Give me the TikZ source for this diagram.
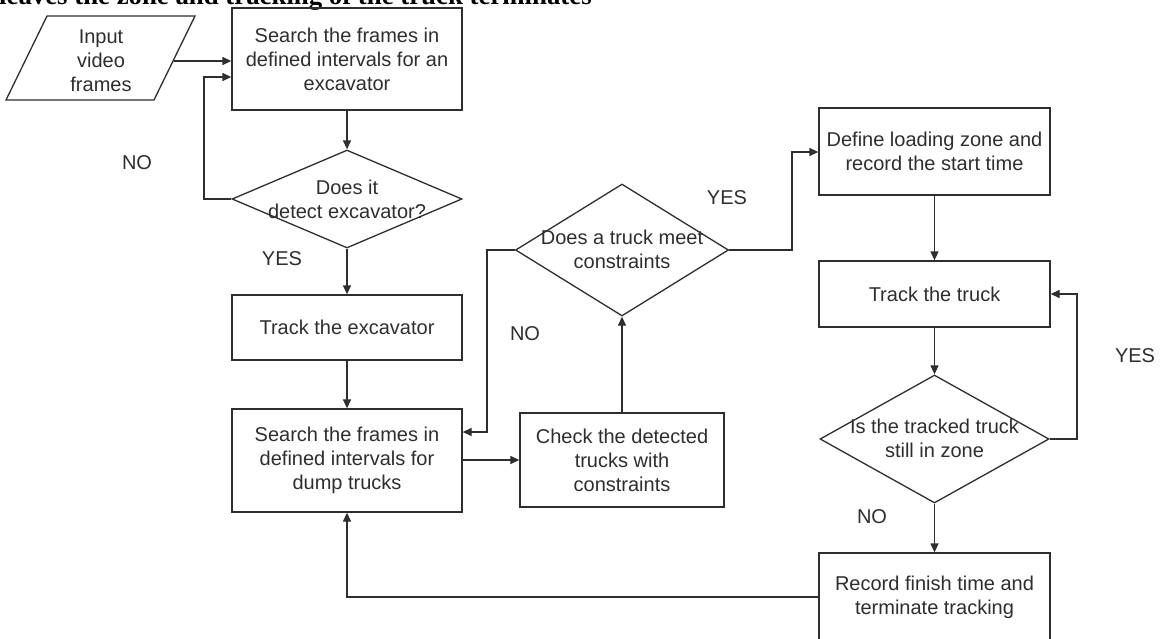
\documentclass[tikz,border=0pt]{standalone}
\usepackage{fontspec}
\setmainfont{Liberation Sans}
\newfontfamily\titlefont{Liberation Serif}
\usetikzlibrary{arrows.meta,shapes.geometric,calc}
\definecolor{ink}{HTML}{2E2E2E}
\tikzset{
  box/.style={draw=ink, line width=1.3pt, rectangle, inner sep=0pt, align=center,
              text=ink, font=\fontsize{20}{24}\selectfont},
  dia/.style={draw=ink, line width=1.3pt, diamond, inner sep=0pt},
  txt/.style={text=ink, align=center, font=\fontsize{20}{24}\selectfont, inner sep=0pt},
  arr/.style={draw=ink, line width=1.3pt, -{Triangle[length=9pt,width=8pt]}},
  ln/.style={draw=ink, line width=1.3pt}
}
\begin{document}
\begin{tikzpicture}[x=1pt,y=-1pt]
\useasboundingbox (0,0) rectangle (1160,638);
\clip (0,0) rectangle (1160,638);
\fill[white] (0,0) rectangle (1160,638);

% title (cut at the top, as in the reference)
\node[anchor=base west, inner sep=0pt, font=\titlefont\bfseries\fontsize{26.8}{30}\selectfont] (title) at (-1,4)
  {leaves the zone and tracking of the truck terminates};

% input parallelogram
\draw[ln, line join=miter] (47,16) -- (195,16) -- (154,100) -- (6,100) -- cycle;
\node[txt] (input) at (101,61) {Input\\video\\frames};
\coordinate (inR) at (174,61);

% boxes
\node[box, minimum width=230, minimum height=102] (b1) at (347,59)
  {Search the frames in\\defined intervals for an\\excavator};
\node[box, minimum width=230, minimum height=65] (b2) at (347,327.5) {Track the excavator};
\node[box, minimum width=230, minimum height=103] (b3) at (347,460.5)
  {Search the frames in\\defined intervals for\\dump trucks};
\node[box, minimum width=204, minimum height=94] (b4) at (622,460)
  {Check the detected\\trucks with\\constraints};
\node[box, minimum width=231, minimum height=87] (b5) at (934.5,151.5)
  {Define loading zone and\\record the start time};
\node[box, minimum width=231, minimum height=66] (b6) at (934.5,294) {Track the truck};
\node[box, minimum width=231, minimum height=88] (b7) at (934.5,597)
  {Record finish time and\\terminate tracking};

% diamonds
\node[dia, minimum width=230, minimum height=98] (d1) at (347,199) {};
\node[txt] at (347,199) {Does it\\detect excavator?};
\node[dia, minimum width=213, minimum height=132] (d2) at (622,250) {};
\node[txt] at (622,249) {Does a truck meet\\constraints};
\node[dia, minimum width=229, minimum height=128] (d3) at (934.5,439) {};
\node[txt] at (934.5,438) {Is the tracked truck\\still in zone};

% connectors
\draw[arr] (inR) -- (inR -| b1.west);
\draw[arr] (b1.south) -- (d1.north);
\coordinate (no1) at (204,77);
\draw[arr] (d1.west) -| (no1) -- (no1 -| b1.west);
\draw[arr] (d1.south) -- (b2.north);
\draw[arr] (b2.south) -- (b3.north);
\draw[arr] (b4.west -| b3.east) -- (b4.west);
\draw[arr] (b4.north) -- (d2.south);
\coordinate (no2) at (487,432);
\draw[arr] (d2.west) -| (no2) -- (no2 -| b3.east);
\coordinate (yes2) at (792,152);
\draw[arr] (d2.east) -| (yes2) -- (yes2 -| b5.west);
\draw[arr] (b5.south) -- (b6.north);
\draw[arr] (b6.south) -- (d3.north);
\coordinate (yes3) at (1077,294);
\draw[arr] (d3.east) -| (yes3) -- (b6.east);
\draw[arr] (d3.south) -- (b7.north);
\draw[arr] (b7.west) -| (b3.south);

% branch labels
\node[txt] (l1) at (137,163) {NO};
\node[txt] (l2) at (282,259) {YES};
\node[txt] (l3) at (727,198) {YES};
\node[txt] (l4) at (525,334) {NO};
\node[txt] (l5) at (1135,356) {YES};
\node[txt] (l6) at (872,517) {NO};
\end{tikzpicture}
\end{document}
